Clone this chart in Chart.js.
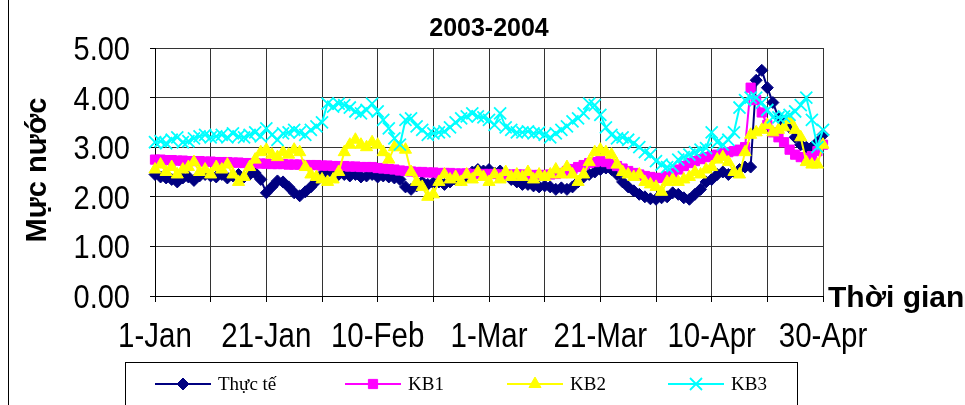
<!DOCTYPE html>
<html>
<head>
<meta charset="utf-8">
<script src="https://cdn.jsdelivr.net/npm/chart.js@4.4.1/dist/chart.umd.min.js"></script>
<style>
  html, body { margin: 0; padding: 0; background: #fff; overflow: hidden; }
  #wrap { position: relative; width: 965px; height: 405px; }
</style>
</head>
<body>
<div id="wrap"><canvas id="c" width="965" height="405"></canvas></div>
<script>
// Water level, daily, 1 Jan - 30 Apr (2004 season)
const chartTitle = '2003-2004';
const yTitle = 'Mực nước';
const xTitle = 'Thời gian';
const seriesNames = ['Thực tế', 'KB1', 'KB2', 'KB3'];

// Daily category labels "1-Jan" ... "30-Apr"
const monthNames = ['Jan', 'Feb', 'Mar', 'Apr'];
const monthLengths = [31, 29, 31, 30];
const days = [];
monthNames.forEach((m, k) => { for (let d = 1; d <= monthLengths[k]; d++) days.push(d + '-' + m); });

// Y-axis tick values
const yTicks = [0, 1, 2, 3, 4, 5];

const thucTe = [
  2.45, 2.40, 2.38, 2.35, 2.30, 2.38, 2.40, 2.33, 2.42, 2.45,
  2.42, 2.40, 2.45, 2.38, 2.42, 2.45, 2.40, 2.45, 2.48, 2.35,
  2.08, 2.20, 2.32, 2.30, 2.20, 2.08, 2.02, 2.10, 2.20, 2.32,
  2.45, 2.50, 2.48, 2.45, 2.45, 2.42, 2.45, 2.40, 2.42, 2.45,
  2.40, 2.42, 2.40, 2.38, 2.35, 2.20, 2.15, 2.22, 2.30, 2.25,
  2.28, 2.30, 2.25, 2.30, 2.35, 2.35, 2.42, 2.50, 2.55, 2.52,
  2.55, 2.48, 2.52, 2.45, 2.35, 2.30, 2.25, 2.25, 2.22, 2.20,
  2.22, 2.20, 2.15, 2.18, 2.15, 2.20, 2.30, 2.40, 2.45, 2.50,
  2.55, 2.58, 2.55, 2.45, 2.30, 2.20, 2.12, 2.05, 2.00, 1.96,
  1.95, 1.98, 2.00, 2.08, 2.05, 1.98, 1.95, 2.05, 2.15, 2.30,
  2.35, 2.45, 2.50, 2.45, 2.50, 2.55, 2.60, 2.60, 4.35, 4.55,
  4.20, 3.90, 3.60, 3.50, 3.40, 3.20, 3.05, 3.00, 3.00, 3.10, 3.25
];

const kb1 = [
  2.75, 2.75, 2.74, 2.74, 2.73, 2.73, 2.72, 2.72, 2.72, 2.71,
  2.71, 2.70, 2.70, 2.70, 2.69, 2.69, 2.68, 2.68, 2.68, 2.67,
  2.67, 2.66, 2.66, 2.66, 2.65, 2.65, 2.65, 2.64, 2.64, 2.64,
  2.63, 2.63, 2.62, 2.62, 2.62, 2.61, 2.61, 2.60, 2.60, 2.60,
  2.58, 2.57, 2.56, 2.55, 2.53, 2.52, 2.51, 2.50, 2.50, 2.49,
  2.49, 2.48, 2.48, 2.48, 2.47, 2.47, 2.47, 2.46, 2.46, 2.46,
  2.46, 2.46, 2.45, 2.45, 2.45, 2.45, 2.45, 2.44, 2.44, 2.44,
  2.44, 2.45, 2.46, 2.48, 2.52, 2.56, 2.60, 2.64, 2.68, 2.70,
  2.72, 2.70, 2.66, 2.62, 2.57, 2.52, 2.48, 2.45, 2.42, 2.40,
  2.38, 2.38, 2.42, 2.48, 2.55, 2.62, 2.68, 2.72, 2.76, 2.80,
  2.82, 2.85, 2.88, 2.90, 2.92, 2.95, 3.00, 4.20, 3.95, 3.70,
  3.45, 3.30, 3.20, 3.10, 2.95, 2.85, 2.80, 2.78, 2.82, 2.92, 3.05
];

const kb2 = [
  2.55, 2.65, 2.50, 2.60, 2.45, 2.55, 2.60, 2.70, 2.50, 2.55,
  2.45, 2.60, 2.55, 2.65, 2.45, 2.30, 2.40, 2.60, 2.75, 2.90,
  2.95, 2.85, 2.80, 2.90, 2.85, 2.95, 2.90, 2.60, 2.45, 2.40,
  2.35, 2.30, 2.35, 2.50, 2.90, 3.05, 3.15, 3.05, 3.00, 3.10,
  3.05, 2.90, 2.75, 3.00, 3.00, 2.95, 2.50, 2.30, 2.20, 2.00,
  2.05, 2.30, 2.45, 2.35, 2.40, 2.30, 2.45, 2.35, 2.50, 2.40,
  2.30, 2.45, 2.35, 2.50, 2.40, 2.45, 2.40, 2.50, 2.35, 2.45,
  2.40, 2.45, 2.55, 2.45, 2.60, 2.45, 2.30, 2.45, 2.70, 2.90,
  2.95, 2.90, 2.85, 2.65, 2.50, 2.45, 2.40, 2.45, 2.30, 2.25,
  2.20, 2.10, 2.30, 2.35, 2.30, 2.35, 2.40, 2.50, 2.45, 2.55,
  2.60, 2.75, 2.80, 2.70, 2.50, 2.45, 2.90, 3.25, 3.30, 3.35,
  3.45, 3.30, 3.35, 3.40, 3.55, 3.35, 3.20, 2.70, 2.65, 2.65, 3.05
];

const kb3 = [
  3.10, 3.12, 3.08, 3.15, 3.20, 3.10, 3.12, 3.18, 3.22, 3.25,
  3.20, 3.22, 3.25, 3.20, 3.28, 3.22, 3.20, 3.25, 3.30, 3.22,
  3.38, 3.25, 3.15, 3.28, 3.30, 3.35, 3.30, 3.25, 3.35, 3.42,
  3.50, 3.88, 3.82, 3.88, 3.85, 3.80, 3.72, 3.68, 3.75, 3.88,
  3.72, 3.55, 3.38, 3.18, 3.05, 3.55, 3.58, 3.42, 3.35, 3.25,
  3.28, 3.30, 3.32, 3.40, 3.50, 3.58, 3.62, 3.68, 3.62, 3.60,
  3.55, 3.45, 3.68, 3.40, 3.35, 3.30, 3.30, 3.32, 3.28, 3.30,
  3.25, 3.20, 3.28, 3.35, 3.42, 3.52, 3.58, 3.68, 3.88, 3.85,
  3.65, 3.40, 3.25, 3.18, 3.20, 3.15, 3.08, 3.00, 2.90, 2.85,
  2.72, 2.65, 2.60, 2.62, 2.75, 2.80, 2.85, 2.90, 2.95, 2.98,
  3.30, 3.10, 3.05, 3.15, 3.30, 3.80, 3.95, 4.00, 4.00, 3.90,
  3.75, 3.60, 3.60, 3.62, 3.65, 3.72, 3.85, 4.00, 3.55, 3.00, 3.35
];

const colors = ['#000080', '#FF00FF', '#FFFF00', '#00FFFF'];
const markers = ['rectRot', 'rect', 'triangle', 'crossRot'];
const markerSizes = [6, 6.5, 7, 8.5];
const drawOrder = [4, 3, 2, 1];

const sansFont = "'Liberation Sans', Arial, sans-serif";
const legendFont = "'Liberation Serif', 'Times New Roman', serif";
const gridColor = '#333333';

const values = [thucTe, kb1, kb2, kb3];
const datasets = values.map((v, k) => ({
  label: seriesNames[k],
  data: v,
  borderColor: colors[k],
  backgroundColor: colors[k],
  borderWidth: 2,
  pointStyle: markers[k],
  pointRadius: markerSizes[k],
  pointBorderWidth: k === 3 ? 1.8 : 1,
  pointBorderColor: colors[k],
  pointBackgroundColor: colors[k],
  tension: 0,
  order: drawOrder[k]
}));

// Text drawn slightly taller than wide, like the axis fonts of the sheet
function tallText(ctx, text, x, y, size, stretch, align) {
  ctx.save();
  ctx.translate(x, y);
  ctx.scale(1, stretch);
  ctx.font = size + 'px ' + sansFont;
  ctx.textAlign = align;
  ctx.textBaseline = 'alphabetic';
  ctx.fillText(text, 0, 0);
  ctx.restore();
}

// Tick labels, titles, axis captions and the boxed legend
const decor = {
  id: 'decor',
  afterDraw(chart) {
    const ctx = chart.ctx;
    const area = chart.chartArea;
    const xs = chart.scales.x, ys = chart.scales.y;
    ctx.save();
    ctx.fillStyle = '#000';

    // outer frame edge
    ctx.strokeStyle = '#000';
    ctx.lineWidth = 1;
    ctx.beginPath();
    ctx.moveTo(8.5, 0);
    ctx.lineTo(8.5, 405);
    ctx.stroke();

    // y tick labels
    yTicks.forEach(v => {
      tallText(ctx, v.toFixed(2), 130, ys.getPixelForValue(v) + 12, 29, 1.17, 'right');
    });
    // x tick labels every 20 days
    days.forEach((d, i) => {
      if (i % 20 === 0) tallText(ctx, d, xs.getPixelForValue(i), 347, 29.5, 1.17, 'center');
    });

    // chart title
    ctx.font = "bold 25px " + sansFont;
    ctx.textAlign = 'center';
    ctx.textBaseline = 'middle';
    ctx.fillText(chartTitle, (area.left + area.right) / 2, 29);

    // y-axis caption
    ctx.save();
    ctx.translate(38, 170);
    ctx.rotate(-Math.PI / 2);
    ctx.font = "bold 29px " + sansFont;
    ctx.fillText(yTitle, 0, 0);
    ctx.restore();

    // x-axis caption
    ctx.font = "bold 30px " + sansFont;
    ctx.textAlign = 'left';
    ctx.fillText(xTitle, 828, 299);

    // legend box
    const bx = 125, by = 362, bw = 672, bh = 60;
    ctx.strokeStyle = '#000';
    ctx.lineWidth = 1;
    ctx.strokeRect(bx + 0.5, by + 0.5, bw, bh);
    const itemX = [155, 345, 507, 668];
    const ly = 384;
    ctx.font = "19px " + legendFont;
    ctx.textAlign = 'left';
    chart.data.datasets.forEach((ds, k) => {
      const x0 = itemX[k];
      ctx.strokeStyle = ds.borderColor;
      ctx.lineWidth = 2;
      ctx.beginPath();
      ctx.moveTo(x0, ly);
      ctx.lineTo(x0 + 56, ly);
      ctx.stroke();
      ctx.fillStyle = ds.pointBackgroundColor;
      ctx.strokeStyle = ds.pointBorderColor;
      ctx.lineWidth = ds.pointBorderWidth;
      Chart.helpers.drawPoint(ctx, { pointStyle: ds.pointStyle, radius: ds.pointRadius, rotation: 0, borderWidth: ds.pointBorderWidth }, x0 + 28, ly);
      ctx.fillStyle = '#000';
      ctx.fillText(ds.label, x0 + 63, ly + 1);
    });
    ctx.restore();
  }
};

new Chart(document.getElementById('c'), {
  type: 'line',
  data: { labels: days, datasets },
  options: {
    responsive: false,
    animation: false,
    devicePixelRatio: 1,
    layout: { padding: { top: 48, right: 142, left: 0, bottom: 0 } },
    plugins: { legend: { display: false }, title: { display: false }, tooltip: { enabled: false } },
    scales: {
      x: {
        type: 'category',
        offset: false,
        grid: {
          color: c => (c.index % 10 === 0 ? gridColor : 'rgba(0,0,0,0)'),
          tickColor: c => (c.index % 10 === 0 ? '#000' : 'rgba(0,0,0,0)'),
          tickLength: 6,
          lineWidth: 1
        },
        border: { color: '#000', width: 1 },
        ticks: { display: false, autoSkip: false, maxRotation: 0, minRotation: 0 },
        afterFit: s => { s.height = 109; }
      },
      y: {
        min: yTicks[0],
        max: yTicks[yTicks.length - 1],
        afterBuildTicks: s => { s.ticks = yTicks.map(v => ({ value: v })); },
        grid: { color: gridColor, tickColor: '#000', tickLength: 5, lineWidth: 1 },
        border: { color: '#000', width: 1 },
        ticks: { display: false },
        afterFit: s => { s.width = 155; }
      }
    }
  },
  plugins: [decor]
});
</script>
</body>
</html>
